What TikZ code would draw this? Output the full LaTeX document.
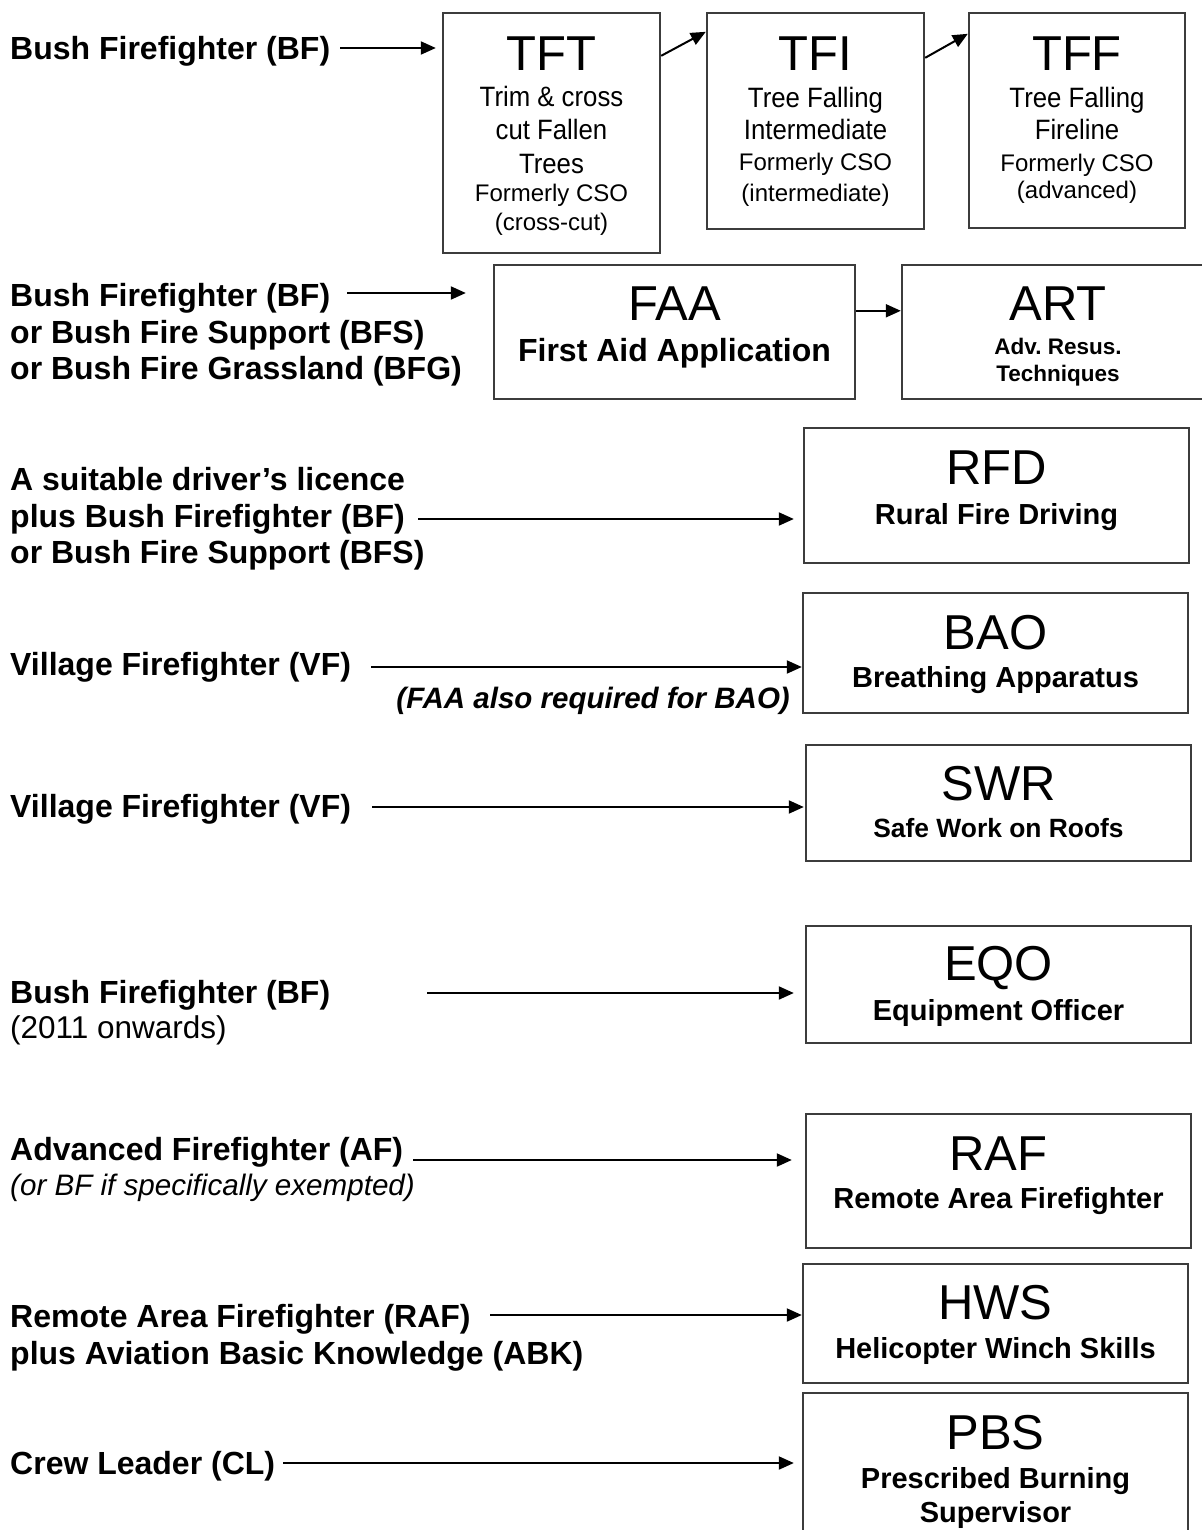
\documentclass[tikz,border=0pt]{standalone}
\usepackage{fontspec}
\setmainfont{Liberation Sans}
\newfontfamily\narrowfont{Liberation Sans}[FakeStretch=0.92]
\usetikzlibrary{arrows.meta}
\definecolor{boxgray}{RGB}{60,60,60}
\frenchspacing

\tikzset{
  box/.style={draw=boxgray, line width=2.4pt, inner sep=0pt},
  arr/.style={line width=2pt, -{Triangle[length=15pt,width=13pt]}},
  % text styles: node height = cap height, so a node centre sits on the cap centre
  ttl/.style={inner sep=0pt, text height=35pt, text depth=0pt, font=\fontsize{49}{55}\selectfont},
  lead/.style={anchor=west, inner sep=0pt, text height=23pt, text depth=0pt, font=\bfseries\fontsize{32}{36}\selectfont},
  leadrm/.style={anchor=west, inner sep=0pt, text height=22.5pt, text depth=0pt, font=\fontsize{31.5}{36}\selectfont},
  leadit/.style={anchor=west, inner sep=0pt, text height=21.2pt, text depth=0pt, font=\itshape\fontsize{29.6}{34}\selectfont},
  leadbi/.style={anchor=east, inner sep=0pt, text height=21.2pt, text depth=0pt, font=\bfseries\itshape\fontsize{29.5}{34}\selectfont},
  sub/.style={inner sep=0pt, text height=20.8pt, text depth=0pt, font=\bfseries\fontsize{29}{33}\selectfont},
  subl/.style={inner sep=0pt, text height=23pt, text depth=0pt, font=\bfseries\fontsize{32}{36}\selectfont},
  subs/.style={inner sep=0pt, text height=18.9pt, text depth=0pt, font=\bfseries\fontsize{26.4}{30}\selectfont},
  subxs/.style={inner sep=0pt, text height=16.1pt, text depth=0pt, font=\bfseries\fontsize{22.5}{26}\selectfont},
  nar/.style={inner sep=0pt, text height=20pt, text depth=0pt, font=\narrowfont\fontsize{28}{32}\selectfont},
  small/.style={inner sep=0pt, text height=17.2pt, text depth=0pt, font=\fontsize{24}{28}\selectfont},
}

\begin{document}
\begin{tikzpicture}[x=1pt, y=-1pt]
\useasboundingbox (0,0) rectangle (1201,1530);

% ---------- course boxes ----------
\node[box, minimum width=217pt, minimum height=240pt] (tft) at (551.5,133) {};
\node[box, minimum width=217pt, minimum height=216pt] (tfi) at (815.5,121) {};
\node[box, minimum width=216pt, minimum height=215pt] (tff) at (1077,120.5) {};
\node[box, minimum width=361pt, minimum height=134pt] (faa) at (674.5,332) {};
\node[box, minimum width=312pt, minimum height=134pt] (art) at (1058,332) {};
\node[box, minimum width=385pt, minimum height=135pt] (rfd) at (996.5,495.5) {};
\node[box, minimum width=385pt, minimum height=120pt] (bao) at (995.5,653) {};
\node[box, minimum width=385pt, minimum height=116pt] (swr) at (998.5,803) {};
\node[box, minimum width=385pt, minimum height=117pt] (eqo) at (998.5,984.5) {};
\node[box, minimum width=385pt, minimum height=134pt] (raf) at (998.5,1181) {};
\node[box, minimum width=385pt, minimum height=119pt] (hws) at (995.5,1323.5) {};
\node[box, minimum width=385pt, minimum height=167pt] (pbs) at (995.5,1476.5) {};

% ---------- box contents ----------
\node[ttl] (tftT) at (551.5,53) {TFT};
\node[nar] (tft1) at (551.5,97) {Trim \& cross};
\node[nar] (tft2) at (551.5,130) {cut Fallen};
\node[nar] (tft3) at (551.5,164) {Trees};
\node[small] (tft4) at (551.5,193) {Formerly CSO};
\node[small] (tft5) at (551.5,222) {(cross-cut)};

\node[ttl] (tfiT) at (815.5,53) {TFI};
\node[nar] (tfi1) at (815.5,98) {Tree Falling};
\node[nar] (tfi2) at (815.5,130) {Intermediate};
\node[small] (tfi3) at (815.5,162) {Formerly CSO};
\node[small] (tfi4) at (815.5,193) {(intermediate)};

\node[ttl] (tffT) at (1077,53) {TFF};
\node[nar] (tff1) at (1077,98) {Tree Falling};
\node[nar] (tff2) at (1077,130) {Fireline};
\node[small] (tff3) at (1077,163) {Formerly CSO};
\node[small] (tff4) at (1077,190) {(advanced)};

\node[ttl] (faaT) at (674.5,303) {FAA};
\node[subl] (faa1) at (674.5,350) {First Aid Application};

\node[ttl] (artT) at (1058,303) {ART};
\node[subxs] (art1) at (1058,346) {Adv. Resus.};
\node[subxs] (art2) at (1058,373) {Techniques};

\node[ttl] (rfdT) at (996.5,467) {RFD};
\node[sub] (rfd1) at (996.5,514) {Rural Fire Driving};

\node[ttl] (baoT) at (995.5,632) {BAO};
\node[sub] (bao1) at (995.5,677) {Breathing Apparatus};

\node[ttl] (swrT) at (998.5,783) {SWR};
\node[subs] (swr1) at (998.5,828) {Safe Work on Roofs};

\node[ttl] (eqoT) at (998.5,963) {EQO};
\node[sub] (eqo1) at (998.5,1010) {Equipment Officer};

\node[ttl] (rafT) at (998.5,1153) {RAF};
\node[sub] (raf1) at (998.5,1198) {Remote Area Firefighter};

\node[ttl] (hwsT) at (995.5,1302) {HWS};
\node[sub] (hws1) at (995.5,1348) {Helicopter Winch Skills};

\node[ttl] (pbsT) at (995.5,1432) {PBS};
\node[sub] (pbs1) at (995.5,1478) {Prescribed Burning};
\node[sub] (pbs2) at (995.5,1512) {Supervisor};

% ---------- prerequisites ----------
\node[lead] (p1) at (10,48) {Bush Firefighter (BF)};

\node[lead] (p2a) at (10,295) {Bush Firefighter (BF)};
\node[lead] (p2b) at (10,332) {or Bush Fire Support (BFS)};
\node[lead] (p2c) at (10,368) {or Bush Fire Grassland (BFG)};

\node[lead] (p3a) at (10,479) {A suitable driver’s licence};
\node[lead] (p3b) at (10,516) {plus Bush Firefighter (BF)};
\node[lead] (p3c) at (10,552) {or Bush Fire Support (BFS)};

\node[lead] (p4) at (10,664) {Village Firefighter (VF)};
\node[leadbi] (n4) at (790,698) {(FAA also required for BAO)};

\node[lead] (p5) at (10,806) {Village Firefighter (VF)};

\node[lead] (p6) at (10,992) {Bush Firefighter (BF)};
\node[leadrm] (n6) at (10,1027) {(2011 onwards)};

\node[lead] (p7) at (10,1149) {Advanced Firefighter (AF)};
\node[leadit] (n7) at (10,1185) {(or BF if specifically exempted)};

\node[lead] (p8a) at (10,1316) {Remote Area Firefighter (RAF)};
\node[lead] (p8b) at (10,1353) {plus Aviation Basic Knowledge (ABK)};

\node[lead] (p9) at (10,1463) {Crew Leader (CL)};

% ---------- arrow start points ----------
\coordinate (a1) at (340,48);
\coordinate (a2) at (347,293);
\coordinate (a3) at (418,519);
\coordinate (a4) at (371,667);
\coordinate (a5) at (372,807);
\coordinate (a6) at (427,993);
\coordinate (a7) at (413,1160);
\coordinate (a8) at (490,1315);
\coordinate (a9) at (283,1463);
\coordinate (fa) at ([yshift=-47pt]faa.north east);

% ---------- connectors ----------
\draw[arr, shorten >=6pt] (a1) -- (tft.west |- a1);
\draw[arr] ([yshift=-44pt]tft.north east) -- ([yshift=-20pt]tfi.north west);
\draw[arr] ([yshift=-46pt]tfi.north east) -- ([yshift=-22pt]tff.north west);
\draw[arr, shorten >=27pt] (a2) -- (faa.west |- a2);
\draw[arr] (fa) -- (fa -| art.west);
\draw[arr, shorten >=9pt] (a3) -- (rfd.west |- a3);
\draw[arr] (a4) -- (bao.west |- a4);
\draw[arr, shorten >=1pt] (a5) -- (swr.west |- a5);
\draw[arr, shorten >=11pt] (a6) -- (eqo.west |- a6);
\draw[arr, shorten >=13pt] (a7) -- (raf.west |- a7);
\draw[arr] (a8) -- (hws.west |- a8);
\draw[arr, shorten >=8pt] (a9) -- (pbs.west |- a9);
\end{tikzpicture}
\end{document}
